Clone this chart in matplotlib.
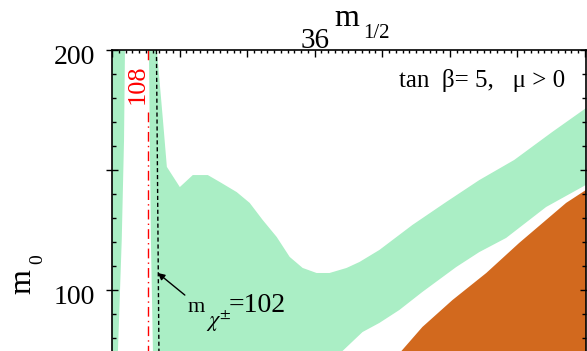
import numpy as np
import matplotlib.pyplot as plt
import matplotlib.transforms as mtransforms
from matplotlib.ticker import MultipleLocator, FuncFormatter

plt.rcParams['font.family'] = ['Liberation Serif', 'DejaVu Serif']
plt.rcParams['mathtext.fontset'] = 'stix'

# allowed relic density band, narrow strip at the left edge
strip_m12 = [100, 109.6, 108.9, 107.2, 104.4, 104.0, 100]
strip_m0 = [200, 200, 162.5, 120.8, 74.6, 70, 70]

# main relic density band (upper edge left->right, then lower edge right->left)
band_m12 = [127.3, 133.2, 137.7, 140.6, 150.2, 159.8, 170.9, 179.8, 192.3, 201.9,
            211.5, 221.9, 231.5, 241.1, 251.4, 261.0, 273.6, 283.2, 297.9, 322.3,
            347.4, 371.8, 397.7, 425.7, 450.8, 460.0,
            460.0, 450.8, 421.3, 391.7, 371.8, 354.8, 329.7, 312.7, 297.9, 285.4,
            270.6, 262.2, 130.5, 130.3, 128.8, 128.1]
band_m0 = [200, 200, 170.8, 151.3, 142.9, 147.9, 147.9, 145.0, 140.8, 136.3,
           129.2, 122.1, 113.8, 109.2, 107.1, 107.1, 109.2, 111.7, 116.7, 127.1,
           136.7, 145.8, 154.2, 165.8, 175.8, 178.8,
           146.0, 143.8, 134.6, 121.7, 115.8, 109.6, 99.2, 91.7, 86.3, 82.5,
           74.6, 70, 70, 74.6, 120.8, 158.3]

# charged LSP region
lsp_m12 = [450.8, 436.1, 401.3, 377.0, 351.9, 329.7, 314.2, 307.1, 460, 460]
lsp_m0 = [141.7, 136.3, 119.6, 107.1, 95.8, 84.6, 74.6, 70, 70, 146.0]

higgs_m12 = 126.6           # m_h = 108 contour
higgs_m0_top = [200, 195]
higgs_m0_low = [174.2, 70]
chargino_m12 = [132.9, 134.8]  # m_chi+- = 102 contour
chargino_m0 = [200, 70]

W, H = 587, 351
fig = plt.figure(figsize=(W / 100, H / 100), dpi=100)
ax = fig.add_axes([112 / W, 0, 474 / W, 301 / H])


def fpos(px, py):
    return px / W, 1 - py / H


ax.fill(band_m12, band_m0, color='#aaeec5', lw=0)
ax.fill(strip_m12, strip_m0, color='#aaeec5', lw=0)
ax.fill(lsp_m12, lsp_m0, color='#d2691e', lw=0)

ax.plot([higgs_m12, higgs_m12], higgs_m0_top, color='red', lw=1, ls=(0, (7, 3, 1, 3)))
ax.plot([higgs_m12, higgs_m12], higgs_m0_low, color='red', lw=1, ls=(0, (7, 3, 1, 3)))
ax.plot(chargino_m12, chargino_m0, color='black', lw=1, ls=(0, (3, 2)))

ax.set_xlim(100, 450.8)
ax.set_ylim(74.6, 200)

ax.xaxis.tick_top()
ax.xaxis.set_major_locator(MultipleLocator(50))
ax.xaxis.set_minor_locator(MultipleLocator(5))
ax.yaxis.set_major_locator(MultipleLocator(50))
ax.yaxis.set_minor_locator(MultipleLocator(10))
ax.yaxis.set_major_formatter(FuncFormatter(lambda v, p: '%d' % v if v in (100, 200) else ''))
ax.tick_params(axis='x', which='major', direction='in', length=5, width=1,
               labeltop=False, labelbottom=False)
ax.tick_params(axis='x', which='minor', direction='in', length=2.5, width=1)
ax.tick_params(axis='y', which='major', direction='inout', length=8, width=1,
               left=True, right=True, labelsize=20, pad=8)
ax.tick_params(axis='y', which='minor', direction='in', length=3, width=1,
               left=True, right=True)
ax.spines['bottom'].set_visible(False)
for s in ['top', 'left', 'right']:
    ax.spines[s].set_linewidth(1.2)

# labels sit a little below their ticks in the original
shift = mtransforms.ScaledTranslation(0, -4 / 100, fig.dpi_scale_trans)
for lab in ax.get_yticklabels():
    lab.set_transform(lab.get_transform() + shift)

ax.text(119.2, 185.8, '108', color='red', fontsize=19, rotation=90,
        ha='center', va='center')
ax.text(312.7, 184.6, 'tan  β= 5,   μ > 0', fontsize=18,
        ha='left', va='baseline')

ax.annotate('', xy=(133.9, 107.1), xytext=(153.9, 97.9),
            arrowprops=dict(arrowstyle='-|>', color='black', lw=1,
                            mutation_scale=10, shrinkA=0, shrinkB=0))
fig.text(*fpos(188, 312), 'm', fontsize=16, ha='left', va='baseline')
fig.text(*fpos(206, 328), r'$\chi^{\pm}$', fontsize=16, ha='left', va='baseline')
fig.text(*fpos(229, 312), '=102', fontsize=20, ha='left', va='baseline')

# axis titles
fig.text(*fpos(315, 41), '36', fontsize=21, ha='center', va='center')
fig.text(*fpos(347, 19), 'm', fontsize=23, ha='center', va='center')
fig.text(*fpos(376, 34), '1/2', fontsize=15, ha='center', va='center')
fig.text(*fpos(23, 282), 'm', fontsize=23, ha='center', va='center', rotation=90)
fig.text(*fpos(38, 259), '0', fontsize=14, ha='center', va='center', rotation=90)

fig.savefig('out.png', dpi=100)
